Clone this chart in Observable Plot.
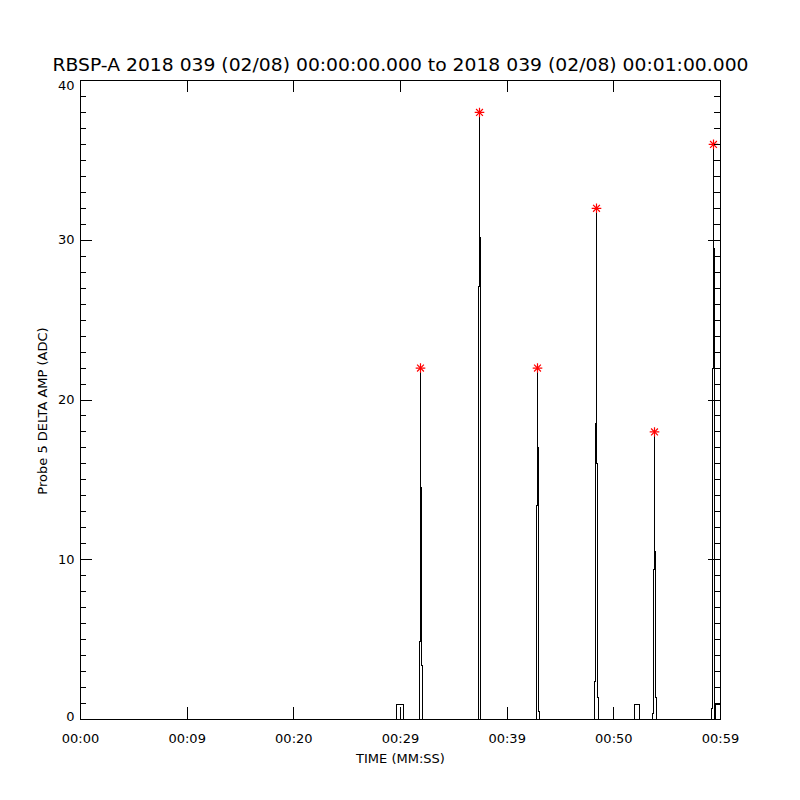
<!DOCTYPE html>
<html>
<head>
<meta charset="utf-8">
<script src="https://cdn.jsdelivr.net/npm/d3@7"></script>
<script src="https://cdn.jsdelivr.net/npm/@observablehq/plot@0.6"></script>
<style>
  html, body { margin: 0; padding: 0; background: #fff; }
</style>
</head>
<body>
<div id="chart"></div>
<script>
// ---- Data ----
const titleText = "RBSP-A 2018 039 (02/08) 00:00:00.000 to 2018 039 (02/08) 00:01:00.000";
const yLabel = "Probe 5 DELTA AMP (ADC)";
const xLabel = "TIME (MM:SS)";

const xTicks = [0, 10, 20, 30, 40, 50, 60];
const xTickLabels = ["00:00", "00:09", "00:20", "00:29", "00:39", "00:50", "00:59"];
const yTicks = [0, 10, 20, 30, 40];
const yTickLabels = ["0", "10", "20", "30", "40"];

// Trace samples (seconds, ADC)
const sampleTime = [
  0, 29.625, 29.625, 30.281, 30.281,
  31.781, 31.781, 31.875, 31.875, 31.875, 31.969, 31.969, 32.063, 32.063,
  37.313, 37.313, 37.406, 37.406, 37.406, 37.500, 37.500,
  42.750, 42.750, 42.844, 42.844, 42.844, 42.938, 42.938, 43.031, 43.031,
  48.188, 48.188, 48.281, 48.281, 48.375, 48.375, 48.375, 48.469, 48.469, 48.563, 48.563,
  49.969, 49.969, 49.969,
  51.938, 51.938, 52.360, 52.360, 52.430, 52.430,
  53.625, 53.625, 53.719, 53.719, 53.813, 53.813, 53.813, 53.906, 53.906, 54.000, 54.000,
  59.156, 59.156, 59.250, 59.250, 59.344, 59.344, 59.344, 59.438, 59.438, 59.531, 59.531, 60
];
const sampleValue = [
  0, 0, 0.94, 0.94, 0,
  0, 4.9, 4.9, 22, 14.5, 14.5, 3.4, 3.4, 0,
  0, 27.1, 27.1, 38, 30.2, 30.2, 0,
  0, 13.4, 13.4, 22, 17, 17, 0.5, 0.5, 0,
  0, 2.4, 2.4, 18.5, 18.5, 32, 16, 16, 1.4, 1.4, 0,
  0, 0.75, 0,
  0, 0.94, 0.94, 0.5, 0.5, 0,
  0, 0.4, 0.4, 9.4, 9.4, 18, 10.5, 10.5, 1.4, 1.4, 0,
  0, 0.7, 0.7, 22, 22, 36, 29.5, 29.5, 0, 0, 0.94, 0.94
];

// Peak markers (red asterisks)
const peakTime = [31.875, 37.406, 42.844, 48.375, 53.813, 59.344];
const peakValue = [22, 38, 22, 32, 18, 36];

// ---- Build tables ----
const trace = sampleTime.map((t, i) => ({t, v: sampleValue[i]}));
const peaks = peakTime.map((t, i) => ({t, v: peakValue[i]}));
const yMinor = d3.range(0, 41, 1).filter(d => !yTicks.includes(d));
const xMin = xTicks[0], xMax = xTicks[xTicks.length - 1];
const yMin = yTicks[0], yMax = yTicks[yTicks.length - 1];
const yLab = d => yTickLabels[yTicks.indexOf(d)];

const crisp = {stroke: "black", strokeWidth: 1, shapeRendering: "crispEdges"};
const yTextOpts = {x: xMin, y: d => d, text: yLab, textAnchor: "end", dx: -6, fontSize: 13, fill: "black"};

const chart = Plot.plot({
  width: 800,
  height: 800,
  marginLeft: 80,
  marginRight: 80,
  marginTop: 80,
  marginBottom: 81,
  style: {fontFamily: "'DejaVu Sans', sans-serif", fontSize: "13px", background: "white", color: "black", overflow: "visible"},
  x: {domain: [xMin, xMax], axis: null},
  y: {domain: [yMin, yMax], axis: null},
  marks: [
    Plot.line(trace, {x: "t", y: "v", ...crisp}),
    Plot.dot(peaks, {x: "t", y: "v", symbol: "plus", r: 3.2, stroke: "red", strokeWidth: 1.2}),
    Plot.dot(peaks, {x: "t", y: "v", symbol: "times", r: 3.2, stroke: "red", strokeWidth: 1.2}),
    Plot.frame(crisp),
    // inward ticks, left & right (major 12px, minor 6px)
    Plot.ruleY(yTicks, {y: d => d, x1: xMin, x2: xMin, insetRight: -12, ...crisp}),
    Plot.ruleY(yMinor, {y: d => d, x1: xMin, x2: xMin, insetRight: -6, ...crisp}),
    Plot.ruleY(yTicks, {y: d => d, x1: xMax, x2: xMax, insetLeft: -12, ...crisp}),
    Plot.ruleY(yMinor, {y: d => d, x1: xMax, x2: xMax, insetLeft: -6, ...crisp}),
    // inward ticks, bottom & top
    Plot.ruleX(xTicks, {x: d => d, y1: yMin, y2: yMin, insetBottom: 12, ...crisp}),
    Plot.ruleX(xTicks, {x: d => d, y1: yMax, y2: yMax, insetTop: 12, ...crisp}),
    // y tick labels (end labels kept inside the frame height, as in the reference)
    Plot.text(yTicks.filter(d => d > yMin && d < yMax), {...yTextOpts, lineAnchor: "middle"}),
    Plot.text([yMax], {...yTextOpts, lineAnchor: "top", dy: 0}),
    Plot.text([yMin], {...yTextOpts, lineAnchor: "bottom", dy: 1}),
    // x tick labels
    Plot.text(xTicks, {x: d => d, y: yMin, text: (d, i) => xTickLabels[i], textAnchor: "middle", lineAnchor: "middle", dy: 19, fontSize: 13, fill: "black"}),
    // titles
    Plot.text([titleText], {text: d => d, frameAnchor: "top", textAnchor: "middle", lineAnchor: "middle", dy: -15, fontSize: 18.5, fill: "black"}),
    Plot.text([yLabel], {text: d => d, frameAnchor: "left", textAnchor: "middle", lineAnchor: "middle", rotate: -90, dx: -38, dy: 11, fontSize: 13, fill: "black"}),
    Plot.text([xLabel], {text: d => d, frameAnchor: "bottom", textAnchor: "middle", lineAnchor: "middle", dy: 39, fontSize: 13, fill: "black"})
  ]
});

d3.select(chart).selectAll("text")
  .filter(function() { return this.textContent === titleText; })
  .attr("textLength", 696)
  .attr("lengthAdjust", "spacingAndGlyphs");

document.getElementById("chart").appendChild(chart);
</script>
</body>
</html>
